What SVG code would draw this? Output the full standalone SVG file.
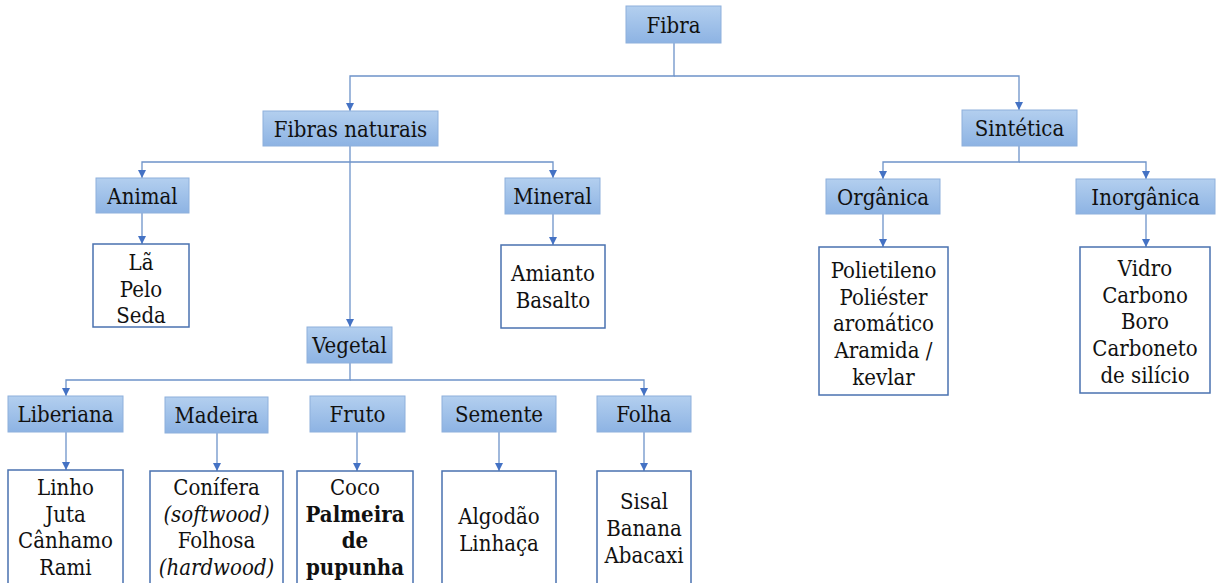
<svg xmlns="http://www.w3.org/2000/svg" width="1218" height="583" viewBox="0 0 1218 583">
<style>
.h{fill:url(#g);stroke:#8eb0dc;stroke-width:1}
.l{fill:#fff;stroke:#4a72b0;stroke-width:1.5}
text{font-family:"DejaVu Serif Condensed","DejaVu Serif","Liberation Serif",serif;font-stretch:condensed;font-size:22px;fill:#111;text-anchor:middle}
.c{fill:none;stroke:#6d93c9;stroke-width:1.3}
</style>
<defs>
<linearGradient id="g" x1="0" y1="0" x2="0" y2="1">
<stop offset="0" stop-color="#b3cfef"/>
<stop offset="1" stop-color="#8db3e3"/>
</linearGradient>
<marker id="a" viewBox="0 0 10 10" refX="10" refY="5" markerWidth="8" markerHeight="8" markerUnits="userSpaceOnUse" orient="auto">
<path d="M0,0L10,5L0,10z" fill="#4472c4"/>
</marker>
</defs>
<g id="connectors">
<path class="c" d="M674,43V76H350V111" marker-end="url(#a)"/>
<path class="c" d="M674,76H1019V110" marker-end="url(#a)"/>
<path class="c" d="M350,146V327" marker-end="url(#a)"/>
<path class="c" d="M350,162H142V178" marker-end="url(#a)"/>
<path class="c" d="M350,162H553V178" marker-end="url(#a)"/>
<path class="c" d="M142,213V244" marker-end="url(#a)"/>
<path class="c" d="M553,214V245" marker-end="url(#a)"/>
<path class="c" d="M350,363V380H66V396" marker-end="url(#a)"/>
<path class="c" d="M350,380H644V396" marker-end="url(#a)"/>
<path class="c" d="M66,432V470" marker-end="url(#a)"/>
<path class="c" d="M217,433V471" marker-end="url(#a)"/>
<path class="c" d="M357,432V471" marker-end="url(#a)"/>
<path class="c" d="M499,432V471" marker-end="url(#a)"/>
<path class="c" d="M644,432V471" marker-end="url(#a)"/>
<path class="c" d="M1019,146V162H883V179" marker-end="url(#a)"/>
<path class="c" d="M1019,162H1146V179" marker-end="url(#a)"/>
<path class="c" d="M883,214V247" marker-end="url(#a)"/>
<path class="c" d="M1146,214V247" marker-end="url(#a)"/>
</g>
<g id="fibra"><rect class="h" x="626" y="6" width="95" height="37"/><text x="673.5" y="33">Fibra</text></g>
<g id="naturais"><rect class="h" x="263" y="111" width="175" height="35"/><text x="350.5" y="137">Fibras naturais</text></g>
<g id="sintetica"><rect class="h" x="962" y="110" width="115" height="36"/><text x="1019.5" y="136">Sintética</text></g>
<g id="animal"><rect class="h" x="96" y="178" width="93" height="35"/><text x="142.5" y="204">Animal</text></g>
<g id="mineral"><rect class="h" x="505" y="178" width="95" height="36"/><text x="552.5" y="204">Mineral</text></g>
<g id="animal-list"><rect class="l" x="93" y="244" width="96" height="83"/><text x="141" y="270">Lã</text><text x="141" y="297">Pelo</text><text x="141" y="323">Seda</text></g>
<g id="mineral-list"><rect class="l" x="501" y="245" width="104" height="83"/><text x="553" y="281">Amianto</text><text x="553" y="308">Basalto</text></g>
<g id="vegetal"><rect class="h" x="307" y="327" width="85" height="36"/><text x="349.5" y="353">Vegetal</text></g>
<g id="liberiana"><rect class="h" x="8" y="396" width="115" height="36"/><text x="65.5" y="422">Liberiana</text></g>
<g id="madeira"><rect class="h" x="165" y="397" width="103" height="36"/><text x="216.5" y="423">Madeira</text></g>
<g id="fruto"><rect class="h" x="310" y="396" width="95" height="36"/><text x="357.5" y="422">Fruto</text></g>
<g id="semente"><rect class="h" x="442" y="396" width="114" height="36"/><text x="499" y="422">Semente</text></g>
<g id="folha"><rect class="h" x="597" y="396" width="94" height="36"/><text x="644" y="422">Folha</text></g>
<g id="liberiana-list"><rect class="l" x="8" y="470" width="115" height="120"/><text x="65.5" y="495">Linho</text><text x="65.5" y="522">Juta</text><text x="65.5" y="548">Cânhamo</text><text x="65.5" y="575">Rami</text></g>
<g id="madeira-list"><rect class="l" x="150" y="471" width="133" height="120"/><text x="216.5" y="495">Conífera</text><text x="216.5" y="522" font-style="italic">(softwood)</text><text x="216.5" y="548">Folhosa</text><text x="216.5" y="575" font-style="italic">(hardwood)</text></g>
<g id="fruto-list"><rect class="l" x="297" y="471" width="116" height="120"/><text x="355" y="495">Coco</text><text x="355" y="522" font-weight="bold">Palmeira</text><text x="355" y="548" font-weight="bold">de</text><text x="355" y="575" font-weight="bold">pupunha</text></g>
<g id="semente-list"><rect class="l" x="442" y="471" width="114" height="120"/><text x="499" y="524">Algodão</text><text x="499" y="551">Linhaça</text></g>
<g id="folha-list"><rect class="l" x="597" y="471" width="94" height="120"/><text x="644" y="509">Sisal</text><text x="644" y="536">Banana</text><text x="644" y="563">Abacaxi</text></g>
<g id="organica"><rect class="h" x="826" y="179" width="114" height="35"/><text x="883" y="205">Orgânica</text></g>
<g id="inorganica"><rect class="h" x="1076" y="179" width="139" height="35"/><text x="1145.5" y="205">Inorgânica</text></g>
<g id="organica-list"><rect class="l" x="819" y="247" width="129" height="148"/><text x="883.5" y="278">Polietileno</text><text x="883.5" y="305">Poliéster</text><text x="883.5" y="331">aromático</text><text x="883.5" y="358">Aramida /</text><text x="883.5" y="385">kevlar</text></g>
<g id="inorganica-list"><rect class="l" x="1080" y="247" width="130" height="146"/><text x="1145" y="276">Vidro</text><text x="1145" y="303">Carbono</text><text x="1145" y="329">Boro</text><text x="1145" y="356">Carboneto</text><text x="1145" y="383">de silício</text></g>
</svg>
